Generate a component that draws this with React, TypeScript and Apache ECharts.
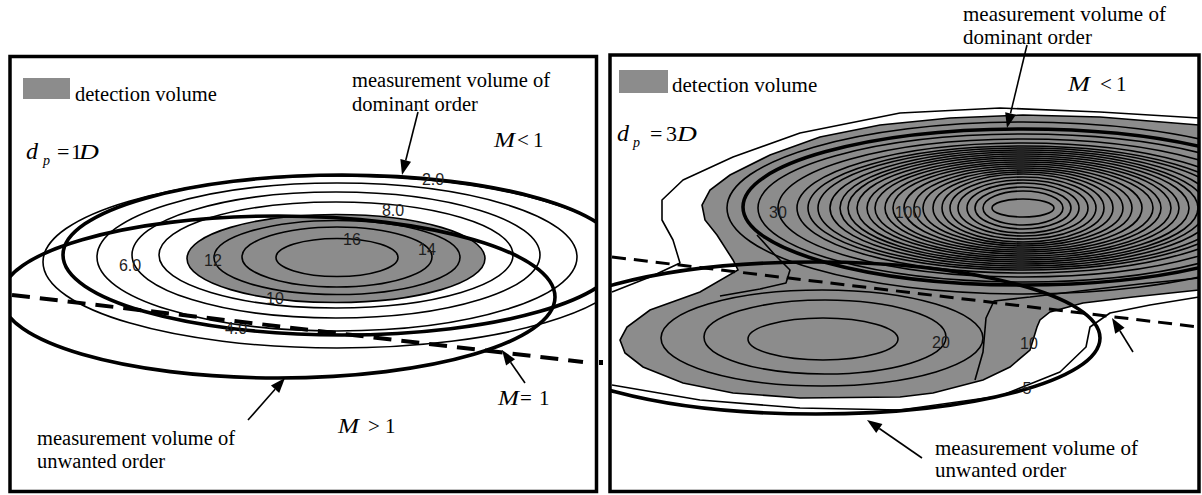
import React, { useEffect, useRef } from "react";
import * as echarts from "echarts";

// ---------------- Left panel: d_p = 1D ----------------
// contour ellipses: [centreX, centreY, halfWidth, halfHeight, level]
const leftContours = [
  [337, 257.5, 61, 19, 16],
  [337, 257, 95, 30, 14],
  [337, 257.5, 123, 37, 12],
  [336, 258.5, 149, 44, 10],
  [336, 255, 177, 53, 8],
  [336, 255, 204, 63, 6],
  [337, 257, 240, 74, 4],
  [337, 262, 294, 86, 2],
];
const leftDetectionLevel = 10;
// measurement volumes: dominant order, unwanted order
const leftVolumes = [
  [342, 255, 279, 80],
  [278, 297, 277, 81],
];
const leftBoundary = [
  [12, 295],
  [583, 362],
];
const leftLabels: [number, number, string][] = [
  [433, 179, "2.0"],
  [393, 210, "8.0"],
  [352, 239, "16"],
  [427, 249, "14"],
  [213, 260, "12"],
  [130, 265, "6.0"],
  [275, 298, "10"],
  [236, 328, "4.0"],
];

// ---------------- Right panel: d_p = 3D ----------------
const rightPeak = [1023, 208];
const rightRingHalfWidths = [296, 265, 245, 226, 215, 205, 193, 183, 175, 166, 156, 148, 138, 130, 119, 109, 100, 90, 81, 73, 65, 56, 48, 40, 31];
const rightRingHalfHeights = [86, 74, 69, 65, 62, 60, 58, 56, 54, 52, 50, 48, 46, 44, 42, 40, 38, 36, 34, 31, 28, 25, 21, 17, 9];
const rightLowerRings = [
  [823, 339, 75, 21],
  [825, 337, 121, 37],
  [822, 338, 161, 48],
];
// level-10 contour = edge of the detection volume
const rightDetectionOutline = [
  [1199, 125], [1100, 117], [1023, 115], [950, 118], [880, 125], [820, 137], [770, 155], [730, 175],
  [710, 190], [702, 205], [705, 220], [717, 235], [733, 260], [738, 270], [700, 292], [650, 310],
  [627, 327], [620, 340], [625, 353], [643, 367], [683, 383], [733, 393], [800, 398], [900, 397],
  [933, 393], [983, 380], [1010, 367], [1030, 350], [1037, 327], [1040, 320], [1050, 312],
  [1083, 303], [1133, 297], [1199, 290],
];
// level-5 contour
const rightOuterTop = [
  [1199, 118], [1100, 112], [1000, 108], [900, 113], [800, 133], [733, 157], [683, 180], [662, 200],
  [662, 220], [673, 240], [680, 263], [650, 277], [612, 292],
];
const rightOuterBottom = [
  [612, 385], [700, 400], [800, 408], [900, 410], [1000, 396], [1060, 372], [1086, 347], [1090, 327],
  [1110, 313], [1150, 305], [1199, 297],
];
const rightNeckA = [[975, 380], [983, 352], [986, 318], [994, 301], [1030, 297], [1080, 291], [1140, 284], [1199, 278]];
const rightNeckB = [[720, 296], [760, 289], [786, 283], [790, 270], [775, 255], [757, 235]];
const rightVolumes = [
  [1023, 207, 280, 78],
  [816, 338, 284, 76],
];
const rightBoundary = [
  [612, 257],
  [1199, 327],
];
const rightLabels: [number, number, string][] = [
  [778, 212, "30"],
  [908, 212, "100"],
  [941, 342, "20"],
  [1029, 343, "10"],
  [1027, 388, "5"],
];

const GRAY = "#8c8c8c";
const SERIF = "'Liberation Serif', 'Times New Roman', Times, serif";
const SANS = "'Liberation Sans', Arial, sans-serif";

function ellipseSeries(data: number[][], idx: number, style: any, z: number) {
  return {
    type: "custom",
    xAxisIndex: idx,
    yAxisIndex: idx,
    clip: true,
    silent: true,
    z,
    data,
    renderItem: (_p: any, api: any) => {
      const c = api.coord([api.value(0), api.value(1)]);
      const s = api.size([api.value(2) * 2, api.value(3) * 2], [api.value(0), api.value(1)]);
      return {
        type: "ellipse",
        shape: { cx: c[0], cy: c[1], rx: s[0] / 2, ry: s[1] / 2 },
        style,
      };
    },
  };
}

function polygonSeries(points: number[][], idx: number, style: any, z: number) {
  return {
    type: "custom",
    xAxisIndex: idx,
    yAxisIndex: idx,
    clip: true,
    silent: true,
    z,
    data: [points[0]],
    renderItem: (_p: any, api: any) => ({
      type: "polygon",
      shape: { points: points.map((pt) => api.coord(pt)) },
      style,
    }),
  };
}

function lineSeries(points: number[][], idx: number, lineStyle: any, z: number) {
  return {
    type: "line",
    xAxisIndex: idx,
    yAxisIndex: idx,
    data: points,
    symbol: "none",
    showSymbol: false,
    silent: true,
    z,
    lineStyle: { color: "#000", ...lineStyle },
  };
}

function labelSeries(labels: [number, number, string][], idx: number, z: number) {
  return {
    type: "custom",
    xAxisIndex: idx,
    yAxisIndex: idx,
    clip: false,
    silent: true,
    z,
    data: labels.map((l) => [l[0], l[1]]),
    renderItem: (p: any, api: any) => {
      const c = api.coord([api.value(0), api.value(1)]);
      return {
        type: "text",
        x: c[0],
        y: c[1],
        style: {
          text: labels[p.dataIndex][2],
          fill: "#1e1e1e",
          font: `16px ${SANS}`,
          align: "center",
          verticalAlign: "middle",
        },
      };
    },
  };
}

function txt(x: number, baseline: number, text: string, size = 20.5, italic = false, scaleX = 1) {
  return {
    type: "text",
    x,
    y: baseline - 0.34 * size,
    scaleX,
    z: 100,
    style: {
      text,
      fill: "#000",
      font: `${italic ? "italic " : ""}${size}px ${SERIF}`,
      align: "left",
      verticalAlign: "middle",
    },
  };
}

function arrow(x1: number, y1: number, x2: number, y2: number, len = 15, half = 5.5) {
  const dx = x2 - x1;
  const dy = y2 - y1;
  const L = Math.hypot(dx, dy);
  const ux = dx / L;
  const uy = dy / L;
  const bx = x2 - ux * len;
  const by = y2 - uy * len;
  return {
    type: "group",
    z: 100,
    children: [
      { type: "line", z: 100, shape: { x1, y1, x2: bx, y2: by }, style: { stroke: "#000", lineWidth: 1.6 } },
      {
        type: "polygon",
        z: 100,
        shape: { points: [[x2, y2], [bx - uy * half, by + ux * half], [bx + uy * half, by - ux * half]] },
        style: { fill: "#000" },
      },
    ],
  };
}

export default function App() {
  const ref = useRef<HTMLDivElement>(null);

  useEffect(() => {
    if (!ref.current) return;
    const chart = echarts.init(ref.current, null, { renderer: "svg" });

    const leftDetection = leftContours.filter((c) => c[4] === leftDetectionLevel);
    const rightRings = rightRingHalfWidths.map((a, i) => [rightPeak[0], rightPeak[1], a, rightRingHalfHeights[i]]);

    const thin = { fill: "none", stroke: "#000", lineWidth: 1.6 };
    const thick = { fill: "none", stroke: "#000", lineWidth: 3.6 };

    const option: any = {
      animation: false,
      backgroundColor: "#fff",
      textStyle: { fontFamily: SERIF },
      grid: [
        { left: 10, top: 56.5, width: 586.5, height: 435, show: false },
        { left: 610, top: 55, width: 589, height: 436.5, show: false },
      ],
      xAxis: [
        { gridIndex: 0, type: "value", min: 10, max: 596.5, show: false },
        { gridIndex: 1, type: "value", min: 610, max: 1199, show: false },
      ],
      yAxis: [
        { gridIndex: 0, type: "value", min: 56.5, max: 491.5, inverse: true, show: false },
        { gridIndex: 1, type: "value", min: 55, max: 491.5, inverse: true, show: false },
      ],
      series: [
        // left panel
        ellipseSeries(leftDetection, 0, { fill: GRAY, stroke: "none" }, 1),
        ellipseSeries(leftContours, 0, thin, 2),
        ellipseSeries(leftVolumes, 0, thick, 3),
        labelSeries(leftLabels, 0, 4),
        lineSeries(leftBoundary, 0, { width: 4, type: [18, 10] }, 5),
        // right panel
        polygonSeries(rightDetectionOutline, 1, { fill: GRAY, stroke: "#000", lineWidth: 1.6 }, 1),
        ellipseSeries(rightRings, 1, thin, 2),
        ellipseSeries(rightLowerRings, 1, thin, 2),
        lineSeries(rightOuterTop, 1, { width: 1.6 }, 2),
        lineSeries(rightOuterBottom, 1, { width: 1.6 }, 2),
        lineSeries(rightNeckA, 1, { width: 1.6 }, 2),
        lineSeries(rightNeckB, 1, { width: 1.6 }, 2),
        ellipseSeries(rightVolumes, 1, thick, 3),
        labelSeries(rightLabels, 1, 4),
        lineSeries(rightBoundary, 1, { width: 3, type: [14, 8] }, 5),
      ],
      graphic: [
        // frames
        { type: "rect", z: 100, shape: { x: 10, y: 56.5, width: 586.5, height: 435 }, style: { fill: "none", stroke: "#000", lineWidth: 3.5 } },
        { type: "rect", z: 100, shape: { x: 610, y: 55, width: 589, height: 436.5 }, style: { fill: "none", stroke: "#000", lineWidth: 3.5 } },
        { type: "rect", z: 100, shape: { x: 599, y: 360, width: 4, height: 5 }, style: { fill: "#000" } },
        // legends
        { type: "rect", z: 100, shape: { x: 23, y: 78, width: 47, height: 21 }, style: { fill: GRAY } },
        txt(75, 101, "detection volume"),
        { type: "rect", z: 100, shape: { x: 619, y: 70, width: 49, height: 23 }, style: { fill: GRAY } },
        txt(672, 92, "detection volume", 21),

        // left annotations
        txt(352, 87, "measurement volume of"),
        txt(352, 111, "dominant order"),
        txt(37, 445, "measurement volume of"),
        txt(37, 468, "unwanted order"),
        txt(26, 159, "d", 24, true),
        txt(43, 165, "p", 14, true),
        txt(57, 159, "=", 22),
        txt(71, 159, "1", 22),
        txt(79, 159, "D", 22, true, 1.25),
        txt(494, 147, "M", 21, true, 1.2),
        txt(517, 147, "<", 21),
        txt(533, 147, "1", 21),
        txt(498, 405, "M", 21, true, 1.2),
        txt(520, 405, "=", 21),
        txt(539, 405, "1", 21),
        txt(338, 433, "M", 21, true, 1.2),
        txt(368, 433, ">", 21),
        txt(385, 433, "1", 21),
        arrow(418, 112, 402, 175),
        arrow(248, 420, 285, 378),
        arrow(525, 383, 502, 350),

        // right annotations
        txt(963, 21, "measurement volume of", 21),
        txt(963, 44, "dominant order", 21),
        txt(935, 455, "measurement volume of", 21),
        txt(935, 477, "unwanted order", 21),
        txt(617, 141, "d", 24, true),
        txt(633, 147, "p", 14, true),
        txt(650, 141, "=", 22),
        txt(666, 141, "3", 22),
        txt(677, 141, "D", 22, true, 1.25),
        txt(1068, 91, "M", 21, true, 1.25),
        txt(1100, 91, "<", 21),
        txt(1116, 91, "1", 21),
        arrow(1027, 45, 1007, 128),
        arrow(922, 458, 867, 420),
        arrow(1133, 352, 1112, 318),
      ],
    };

    chart.setOption(option);
    return () => chart.dispose();
  }, []);

  return (
    <div
      ref={ref}
      style={{ position: "absolute", left: 0, top: 0, width: 1202, height: 495, background: "#fff" }}
    />
  );
}
